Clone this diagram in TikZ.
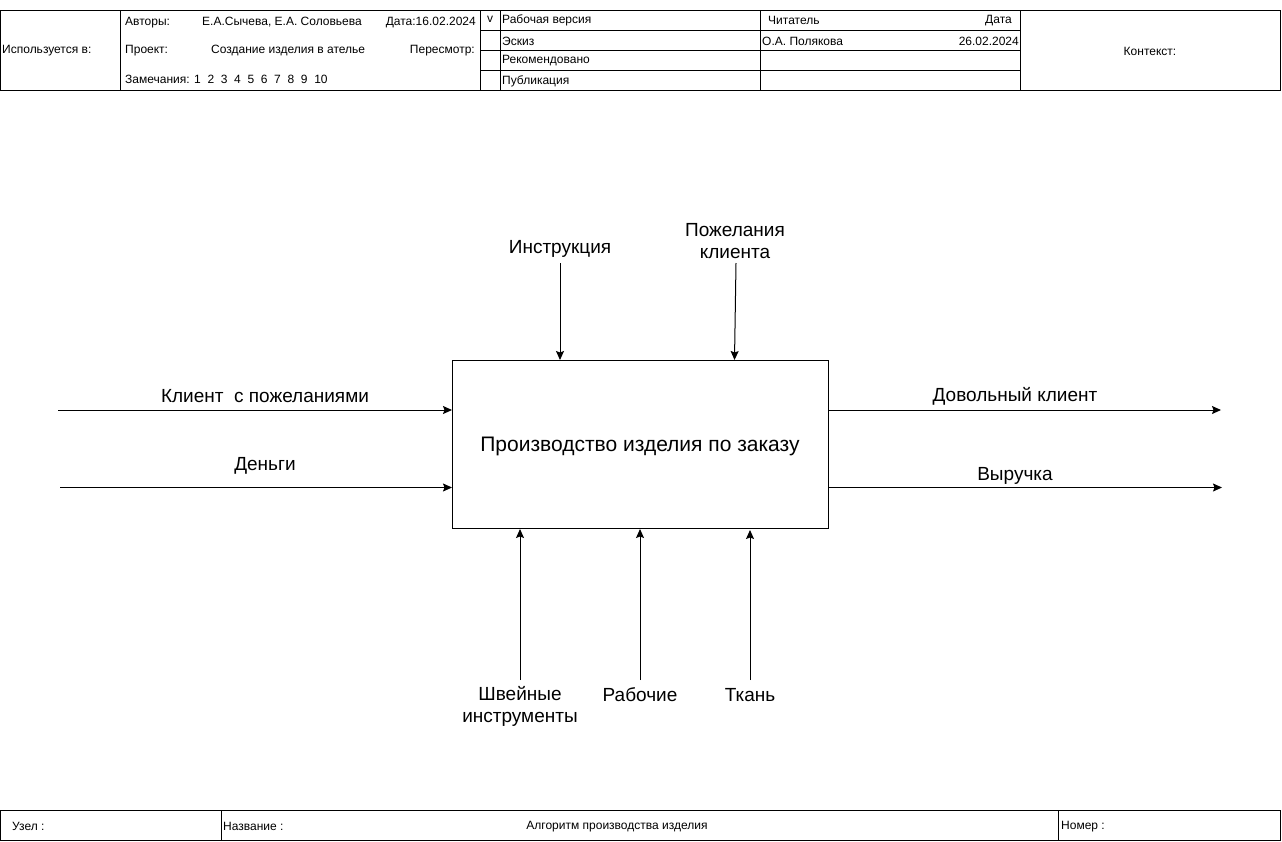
\documentclass[tikz,border=0pt]{standalone}
\usepackage{fontspec}
\setmainfont{Liberation Sans}
\usetikzlibrary{arrows.meta}
\begin{document}
\begin{tikzpicture}[x=1pt,y=-1pt,
  frame/.style={line width=1pt},
  small/.style={font=\fontsize{12}{14}\selectfont, inner sep=0pt},
  lbl/.style={font=\fontsize{19}{22}\selectfont, inner sep=0pt, align=center},
  arr/.style={line width=1pt, -{Stealth[length=9pt,width=8pt,inset=1.5pt]}},
  funcbox/.style={draw, line width=1pt, inner sep=0pt, anchor=north west,
    minimum width=376pt, minimum height=168pt}]
\useasboundingbox (0,0) rectangle (1282,841);

% ---- header form ----
\draw[frame] (0.5,10) rectangle (1280,90);
\draw[frame] (120,10) -- (120,90);
\draw[frame] (480,10) -- (480,90);
\draw[frame] (500,10) -- (500,90);
\draw[frame] (760,10) -- (760,90);
\draw[frame] (1020,10) -- (1020,90);
\foreach \yy in {30,50,70} \draw[frame] (480,\yy) -- (1020,\yy);

\node[small, anchor=west] (usedin) at (2,51) {Используется в:};
\node[small, anchor=west] (authL) at (125,22.5) {Авторы:};
\node[small, anchor=west] (authV) at (202,22.5) {Е.А.Сычева, Е.А. Соловьева};
\node[small, anchor=east] (dateV) at (476,22.5) {Дата:16.02.2024};
\node[small, anchor=west] (projL) at (125,50.5) {Проект:};
\node[small, anchor=west] (projV) at (211,50.5) {Создание изделия в ателье};
\node[small, anchor=east] (revL) at (475,50.5) {Пересмотр:};
\node[small, anchor=west] (notes) at (125,79) {Замечания: 1\ \ 2\ \ 3\ \ 4\ \ 5\ \ 6\ \ 7\ \ 8\ \ 9\ \ 10};
\node[small] (chk) at (490,19) {v};
\node[small, anchor=west] (st1) at (502,20.5) {Рабочая версия};
\node[small, anchor=west] (st2) at (502,41) {Эскиз};
\node[small, anchor=west] (st3) at (502,61) {Рекомендовано};
\node[small, anchor=west] (st4) at (502,81) {Публикация};
\node[small, anchor=west] (rdL) at (768,20.5) {Читатель};
\node[small, anchor=east] (rdD) at (1012,20.5) {Дата};
\node[small, anchor=west] (rdN) at (762,41) {О.А. Полякова};
\node[small, anchor=east] (rdV) at (1019,41) {26.02.2024};
\node[small] (ctx) at (1150,51) {Контекст:};

% ---- footer form ----
\draw[frame] (0.5,810) rectangle (1280,840);
\draw[frame] (221,810) -- (221,840);
\draw[frame] (1058,810) -- (1058,840);
\node[small, anchor=west] (node) at (12,826.5) {Узел :};
\node[small, anchor=west] (nameL) at (223,826.5) {Название :};
\node[small] (nameV) at (617,826.5) {Алгоритм производства изделия};
\node[small, anchor=west] (num) at (1061,826.5) {Номер :};

% ---- function block ----
\node[funcbox] (fn) at (452,360) {};
\node[font=\fontsize{21}{25}\selectfont, inner sep=0pt] (fnT) at (640,446) {Производство изделия по заказу};

% controls
\coordinate (c1) at (560,263);
\coordinate (c1e) at (560,360);
\coordinate (c2) at (736,263);
\coordinate (c2e) at (734.5,360);
\draw[arr] (c1) -- (c1e);
\draw[arr] (c2) -- (c2e);
\node[lbl] (c1l) at (560,249) {Инструкция};
\node[lbl] (c2l) at (735,241.5) {Пожелания\\клиента};

% inputs
\coordinate (i1) at (58,410);
\coordinate (i2) at (60,487.5);
\draw[arr] (i1) -- (i1 -| fn.west);
\draw[arr] (i2) -- (i2 -| fn.west);
\node[lbl] (i1l) at (265,396) {Клиент\ \ с пожеланиями};
\node[lbl] (i2l) at (265,466) {Деньги};

% outputs
\coordinate (o1) at (1221,410);
\coordinate (o2) at (1222,487.5);
\draw[arr] (o1 -| fn.east) -- (o1);
\draw[arr] (o2 -| fn.east) -- (o2);
\node[lbl] (o1l) at (1015,396) {Довольный клиент};
\node[lbl] (o2l) at (1015,476) {Выручка};

% mechanisms
\coordinate (m1) at (520,680);
\coordinate (m2) at (640,680);
\coordinate (m3) at (750,680);
\draw[arr] (m1) -- (m1 |- fn.south);
\draw[arr] (m2) -- (m2 |- fn.south);
\draw[arr] (m3) -- (750,530);
\node[lbl] (m1l) at (520,706) {Швейные\\инструменты};
\node[lbl] (m2l) at (640,695) {Рабочие};
\node[lbl] (m3l) at (750,695) {Ткань};
\end{tikzpicture}
\end{document}
